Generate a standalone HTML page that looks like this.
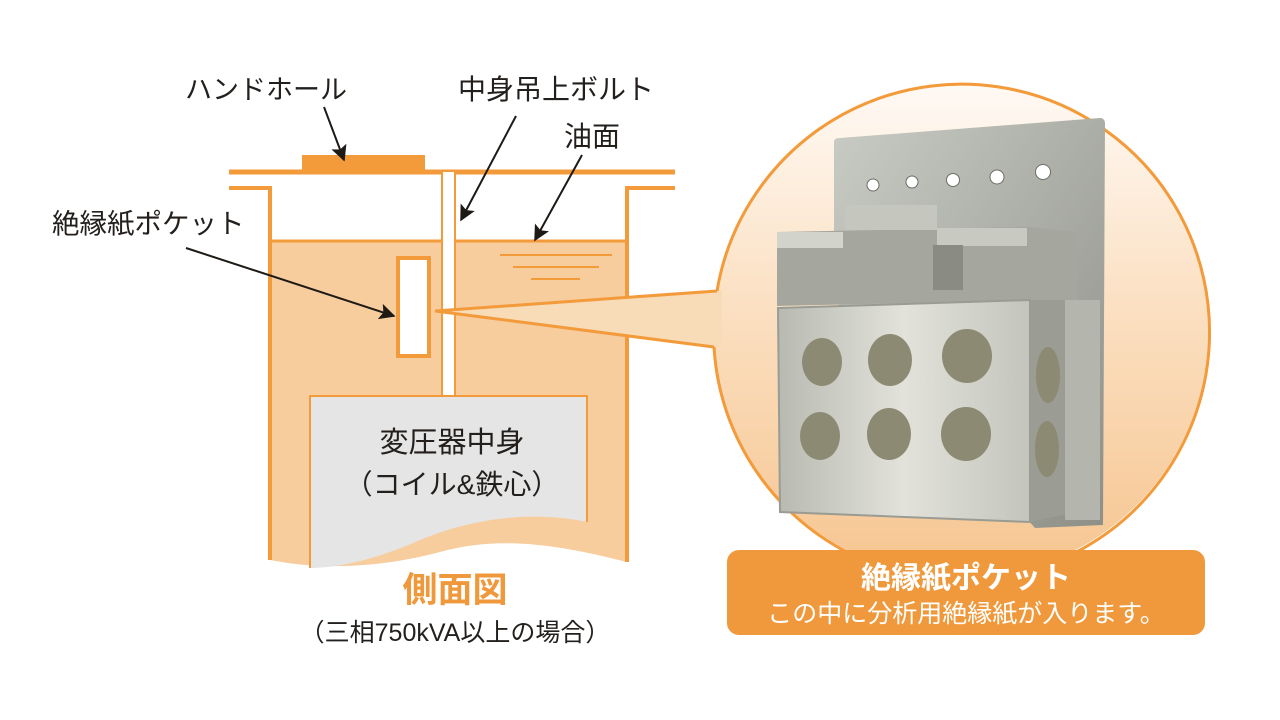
<!DOCTYPE html>
<html><head><meta charset="utf-8"><style>
html,body{margin:0;padding:0;background:#fff;width:1280px;height:720px;overflow:hidden}
svg{display:block}
text{font-family:"Liberation Sans","Noto Sans CJK JP",sans-serif}
</style></head><body>
<svg width="1280" height="720" viewBox="0 0 1280 720">
<defs>
<linearGradient id="cg" x1="0" y1="0" x2="0" y2="1">
<stop offset="0" stop-color="#fffaf5"/><stop offset="0.45" stop-color="#fbe0c2"/><stop offset="1" stop-color="#f6c590"/>
</linearGradient>
<linearGradient id="mg" x1="0" y1="0" x2="1" y2="1">
<stop offset="0" stop-color="#c9ccc4"/><stop offset="1" stop-color="#8e9088"/>
</linearGradient>
<linearGradient id="fg" x1="0" y1="0" x2="1" y2="0">
<stop offset="0" stop-color="#b8bab2"/><stop offset="0.5" stop-color="#e2e2da"/><stop offset="1" stop-color="#c3c5bd"/>
</linearGradient>
<marker id="ar" viewBox="0 0 10 10" refX="9" refY="5" markerWidth="18" markerHeight="16" orient="auto" markerUnits="userSpaceOnUse">
<path d="M0,0 L10,5 L0,10 L2,5 z" fill="#1e1a16"/></marker>
</defs>
<!-- oil fill -->
<path d="M270,241 H627 V562 C560,545 500,535 440,552 C380,568 320,570 270,560 Z" fill="#f7cd9e"/>
<path d="M229,188 H270 V560" fill="none" stroke="#f39a3a" stroke-width="4"/>
<path d="M675,188 H627 V562" fill="none" stroke="#f39a3a" stroke-width="4"/>
<line x1="270" y1="241" x2="627" y2="241" stroke="#f39a3a" stroke-width="3"/>
<line x1="229" y1="172" x2="675" y2="172" stroke="#f39a3a" stroke-width="5"/>
<rect x="302" y="155" width="123" height="17" fill="#f39a3a"/>
<rect x="442" y="172" width="13" height="224" fill="#fff"/>
<line x1="442" y1="172" x2="442" y2="396" stroke="#f39a3a" stroke-width="2"/>
<line x1="455" y1="172" x2="455" y2="396" stroke="#f39a3a" stroke-width="2"/>
<line x1="500" y1="255" x2="612" y2="255" stroke="#f39a3a" stroke-width="2"/>
<line x1="513" y1="267" x2="599" y2="267" stroke="#f39a3a" stroke-width="2"/>
<line x1="531" y1="279" x2="580" y2="279" stroke="#f39a3a" stroke-width="2"/>
<path d="M310,396 H587 V522 C540,512 480,515 420,540 C380,558 340,568 310,568 Z" fill="#e5e5e5"/>
<path d="M310,568 V396 H587 V522" fill="none" stroke="#f39a3a" stroke-width="2"/>
<text x="452" y="452" font-size="29" text-anchor="middle" fill="#231f1c">変圧器中身</text>
<text x="452" y="494" font-size="28" text-anchor="middle" fill="#231f1c">（コイル&amp;鉄心）</text>
<rect x="398" y="258" width="31" height="98" fill="#fff" stroke="#f39a3a" stroke-width="4"/>
<!-- circle -->
<circle cx="961" cy="330" r="248" fill="url(#cg)"/>
<path d="M435,311 L722,290 L722,348 Z" fill="#f8dcb8"/>
<path d="M717,291 A248,248 0 1 1 714,347" fill="none" stroke="#f39a3a" stroke-width="3"/>
<line x1="435" y1="311" x2="717" y2="291" stroke="#f39a3a" stroke-width="3"/>
<line x1="435" y1="311" x2="714" y2="347" stroke="#f39a3a" stroke-width="3"/>
<!-- photo -->
<path d="M834,142 Q834,138 840,138 L1100,118 Q1105,118 1105,124 L1103,525 L1035,528 L834,300 Z" fill="url(#mg)"/>
<g fill="#fff" stroke="#6c6e66" stroke-width="1">
<circle cx="873" cy="185" r="6"/><circle cx="912" cy="182" r="6"/><circle cx="953" cy="180" r="6.5"/><circle cx="997" cy="177" r="7"/><circle cx="1043" cy="172" r="7.5"/>
</g>
<path d="M777,232 L1030,227 L1075,232 L1078,300 L1055,350 L1035,340 L1030,300 L777,306 Z" fill="#a5a79e"/>
<rect x="845" y="205" width="92" height="25" fill="#c5c7bf"/>
<rect x="777" y="232" width="66" height="16" fill="#d2d4cc"/>
<rect x="937" y="228" width="90" height="18" fill="#c8cac2"/>
<rect x="933" y="245" width="30" height="45" fill="#8a8c84"/>
<path d="M1030,300 L1078,300 L1085,510 L1030,522 Z" fill="#9b9d94"/>
<rect x="1065" y="300" width="35" height="220" fill="#b4b6ad"/>
<path d="M778,308 L1030,300 L1030,522 L780,512 Z" fill="url(#fg)" stroke="#9a9c94" stroke-width="2"/>
<g fill="#8c8a72">
<ellipse cx="822" cy="362" rx="20" ry="24"/><ellipse cx="890" cy="360" rx="22" ry="26"/><ellipse cx="967" cy="356" rx="25" ry="27"/>
<ellipse cx="820" cy="436" rx="20" ry="24"/><ellipse cx="889" cy="434" rx="22" ry="26"/><ellipse cx="966" cy="434" rx="25" ry="27"/>
<ellipse cx="1048" cy="375" rx="12" ry="28"/><ellipse cx="1047" cy="449" rx="12" ry="28"/>
</g>
<rect x="727" y="550" width="478" height="85" rx="12" fill="#f0993c"/>
<text x="966" y="588" font-size="30" font-weight="bold" text-anchor="middle" fill="#fff">絶縁紙ポケット</text>
<text x="966" y="622" font-size="25" text-anchor="middle" fill="#fff">この中に分析用絶縁紙が入ります。</text>
<text x="185" y="99" font-size="27" fill="#231f1c">ハンドホール</text>
<text x="458" y="99" font-size="28" fill="#231f1c">中身吊上ボルト</text>
<text x="564" y="146" font-size="28" fill="#231f1c">油面</text>
<text x="52" y="233" font-size="27.5" fill="#231f1c">絶縁紙ポケット</text>
<text x="455" y="602" font-size="35" font-weight="bold" text-anchor="middle" fill="#f0993c">側面図</text>
<text x="455" y="641" font-size="25" text-anchor="middle" fill="#231f1c">（三相750kVA以上の場合）</text>
<g stroke="#1e1a16" stroke-width="2" marker-end="url(#ar)">
<line x1="324" y1="107" x2="344" y2="160"/>
<line x1="516" y1="116" x2="461" y2="220"/>
<line x1="582" y1="155" x2="535" y2="240"/>
<line x1="186" y1="248" x2="394" y2="316"/>
</g>
</svg>
</body></html>
